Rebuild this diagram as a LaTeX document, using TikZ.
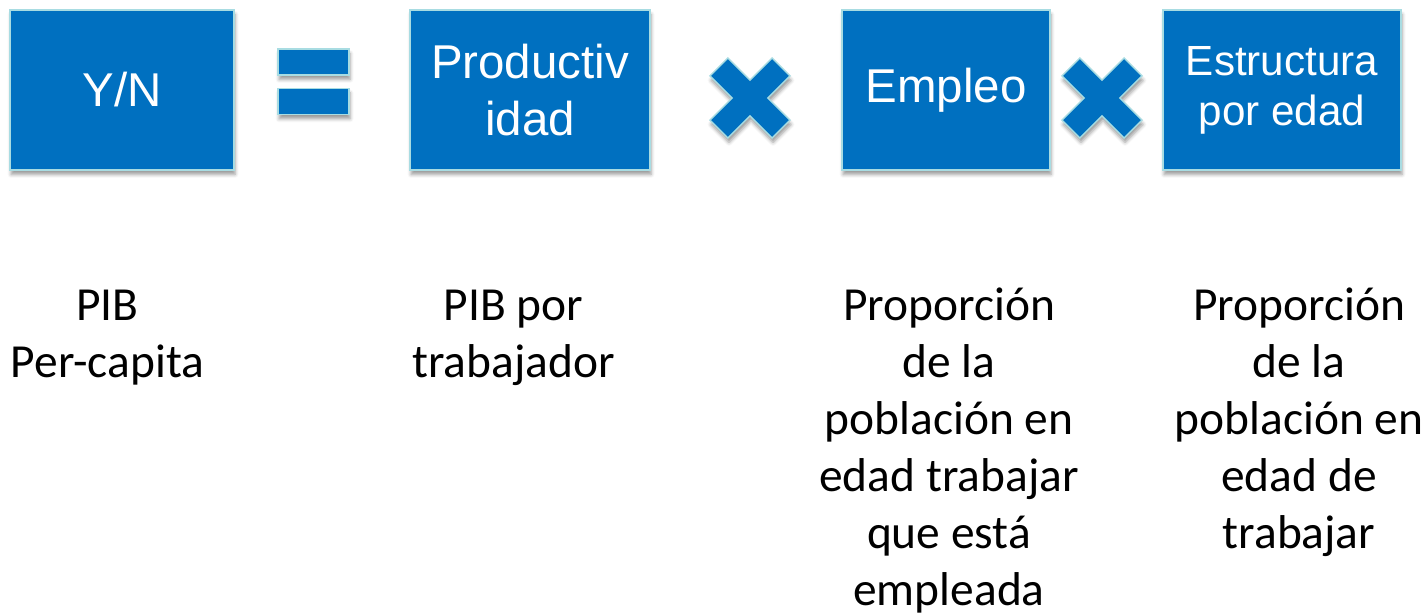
\documentclass[tikz,border=0pt]{standalone}
\usepackage{fontspec}
\setmainfont{Carlito}
\newfontfamily\boxfont{Liberation Sans}
\usetikzlibrary{positioning,shadows.blur}
\definecolor{boxblue}{HTML}{0070C0}
\definecolor{boxrim}{HTML}{A8DCE2}

\begin{document}
\begin{tikzpicture}[node distance=8cm, thick]
   \tikzstyle{every node} = [inner sep=0pt];
   \tikzstyle{term} = [rectangle, draw=boxrim, line width=0.8pt, fill=boxblue, text=white, align=center, minimum height=3.2cm, font=\boxfont\fontsize{27}{32.4}\selectfont, blur shadow={shadow xshift=0.6pt, shadow yshift=-2.5pt, shadow blur radius=2pt, shadow opacity=40}];
   \tikzstyle{sign} = [draw=boxrim, line width=0.8pt, fill=boxblue, blur shadow={shadow xshift=0.6pt, shadow yshift=-2.5pt, shadow blur radius=2pt, shadow opacity=40}];
   \tikzstyle{desc} = [align=center, anchor=base, font=\fontsize{27}{32.4}\selectfont];
   \useasboundingbox (0,0) rectangle (28.54,-12.3);
   % factors
   \node[term, minimum width=4.48cm] (yn) at (2.44,-1.8) {Y/N};
   \node[term, minimum width=4.8cm]  (prod) [right of = yn, node distance=8.16cm] {Productiv\\idad};
   \node[term, minimum width=4.16cm] (emp)  [right of = prod, node distance=8.32cm] {Empleo};
   \node[term, minimum width=4.76cm, font=\boxfont\fontsize{24}{28.5}\selectfont] (est) [right of = emp, node distance=6.72cm] {Estructura\\por edad};
   % equals and times
   \node[sign, rectangle, minimum width=1.42cm, minimum height=0.52cm] (eqtop) at (6.27,-1.24) {};
   \node[sign, rectangle, minimum width=1.42cm, minimum height=0.52cm] (eqbot) at (6.27,-2.03) {};
   \foreach \cx in {15.0,22.04}
     \filldraw[sign, shift={(\cx,-1.96)}, rotate=45] (0.878,0.254) -- (0.254,0.254) -- (0.254,0.878) -- (-0.254,0.878) -- (-0.254,0.254) -- (-0.878,0.254) -- (-0.878,-0.254) -- (-0.254,-0.254) -- (-0.254,-0.878) -- (0.254,-0.878) -- (0.254,-0.254) -- (0.878,-0.254) -- cycle;
   % meanings
   \node[desc] (pib)     at (2.15,-7.54)  {PIB\\Per-capita};
   \node[desc] (pibtrab) at (10.27,-7.54) {PIB por\\trabajador};
   \node[desc] (empdesc) at (18.98,-12.1) {Proporción\\de la\\población en\\edad trabajar\\que está\\empleada};
   \node[desc] (estdesc) at (25.98,-10.96) {Proporción\\de la\\población en\\edad de\\trabajar};
\end{tikzpicture}
\end{document}
